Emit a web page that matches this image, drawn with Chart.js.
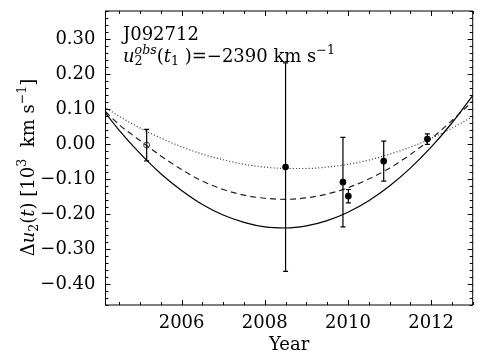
<!DOCTYPE html>
<html>
<head>
<meta charset="utf-8">
<script src="https://cdn.jsdelivr.net/npm/chart.js"></script>
<style>
  html, body { margin: 0; padding: 0; background: #fff; }
  #wrap { width: 485px; height: 364px; }
</style>
</head>
<body>
<div id="wrap"><canvas id="chart" width="485" height="364"></canvas></div>
<script>
// model curves, every half year
const modelYears = [2004.0, 2004.5, 2005.0, 2005.5, 2006.0, 2006.5, 2007.0, 2007.5, 2008.0, 2008.5,
                    2009.0, 2009.5, 2010.0, 2010.5, 2011.0, 2011.5, 2012.0, 2012.5, 2013.0];
const solidModel  = [0.115, 0.039, -0.027, -0.085, -0.133, -0.173, -0.203, -0.224, -0.237, -0.240,
                     -0.234, -0.219, -0.195, -0.162, -0.120, -0.069, -0.009, 0.060, 0.138];
const dashedModel = [0.113, 0.055, 0.010, -0.034, -0.073, -0.106, -0.130, -0.146, -0.155, -0.158,
                     -0.154, -0.143, -0.125, -0.100, -0.069, -0.030, 0.015, 0.067, 0.122];
const dottedModel = [0.117, 0.079, 0.046, 0.017, -0.008, -0.029, -0.045, -0.058, -0.066, -0.070,
                     -0.070, -0.066, -0.058, -0.046, -0.029, -0.009, 0.016, 0.045, 0.078];

// measurements (filled) and the reference epoch (open)
const obsYears  = [2008.50, 2009.88, 2010.01, 2010.86, 2011.91];
const obsValues = [-0.066, -0.109, -0.149, -0.049, 0.014];
const obsErrors = [0.298, 0.128, 0.019, 0.057, 0.015];
const refYears  = [2005.16];
const refValues = [-0.003];
const refErrors = [0.045];

const xTicks = [2006, 2008, 2010, 2012];
const yTicks = [-0.40, -0.30, -0.20, -0.10, 0.00, 0.10, 0.20, 0.30];

const FONT = '"DejaVu Serif", "Liberation Serif", serif';
const FS = 18;

// draws a run of text pieces (italic / sub / sup), returns total width
function drawRich(ctx, parts, x, y, size, draw) {
    let cx = x, start = x, end = x;
    parts.forEach(p => {
        const s = (p.sub || p.sup) ? size * 0.7 : size;
        ctx.font = `${p.i ? 'italic ' : ''}${s}px ${FONT}`;
        const w = ctx.measureText(p.t).width;
        if (p.back) cx = start;
        start = cx;
        const dy = p.sub ? size * 0.2 : p.sup ? -size * 0.42 : 0;
        if (draw) ctx.fillText(p.t, cx, y + dy);
        cx = p.back ? Math.max(end, cx + w) : cx + w;
        end = cx;
    });
    return cx - x;
}

const yTitle = [
    { t: 'Δ' }, { t: 'u', i: true }, { t: '2', sub: true }, { t: '(' }, { t: 't', i: true },
    { t: ') [10' }, { t: '3', sup: true }, { t: '  km s' }, { t: '−1', sup: true }, { t: ']' }
];
const labelLine2 = [
    { t: 'u', i: true }, { t: 'obs', i: true, sup: true }, { t: '2', sub: true, back: true },
    { t: '(' }, { t: 't', i: true }, { t: '1', sub: true }, { t: ' )=−2390 km s' }, { t: '−1', sup: true }
];

const framePlugin = {
    id: 'frame',
    afterDraw(chart) {
        const { ctx, chartArea: a, scales: { x, y } } = chart;
        ctx.save();
        ctx.strokeStyle = '#000';
        ctx.lineWidth = 1;
        ctx.strokeRect(a.left, a.top, a.right - a.left, a.bottom - a.top);
        // inward ticks on all sides
        for (let v = 2004.5; v <= 2013.0001; v += 0.5) {
            const px = Math.round(x.getPixelForValue(v)) + 0.5;
            const len = Math.abs(v / 2 - Math.round(v / 2)) < 1e-6 ? 5 : 3;
            ctx.beginPath();
            ctx.moveTo(px, a.bottom); ctx.lineTo(px, a.bottom - len);
            ctx.moveTo(px, a.top); ctx.lineTo(px, a.top + len);
            ctx.stroke();
        }
        for (let k = -23; k <= 19; k++) {
            const v = k * 0.02;
            const py = Math.round(y.getPixelForValue(v)) + 0.5;
            const len = k % 5 === 0 ? 5 : 3;
            ctx.beginPath();
            ctx.moveTo(a.left, py); ctx.lineTo(a.left + len, py);
            ctx.moveTo(a.right, py); ctx.lineTo(a.right - len, py);
            ctx.stroke();
        }
        ctx.restore();
    }
};

const errorBarPlugin = {
    id: 'errorBars',
    afterDatasetsDraw(chart) {
        const { ctx, scales: { x, y } } = chart;
        const bars = (xs, vs, es) => xs.forEach((yr, i) => {
            const px = x.getPixelForValue(yr);
            const top = y.getPixelForValue(vs[i] + es[i]);
            const bot = y.getPixelForValue(vs[i] - es[i]);
            ctx.beginPath();
            ctx.moveTo(px, top); ctx.lineTo(px, bot);
            ctx.moveTo(px - 2.5, top); ctx.lineTo(px + 2.5, top);
            ctx.moveTo(px - 2.5, bot); ctx.lineTo(px + 2.5, bot);
            ctx.stroke();
        });
        ctx.save();
        ctx.strokeStyle = '#000';
        ctx.lineWidth = 1.2;
        bars(obsYears, obsValues, obsErrors);
        bars(refYears, refValues, refErrors);
        ctx.restore();
    }
};

const textPlugin = {
    id: 'texts',
    afterDraw(chart) {
        const { ctx, chartArea: a } = chart;
        ctx.save();
        ctx.fillStyle = '#000';
        ctx.textBaseline = 'alphabetic';
        ctx.textAlign = 'left';
        ctx.font = `${FS}px ${FONT}`;
        ctx.fillText('J092712', 123, 40);
        drawRich(ctx, labelLine2, 123, 61.5, FS, true);

        ctx.font = `${FS}px ${FONT}`;
        ctx.textAlign = 'center';
        ctx.fillText('Year', (a.left + a.right) / 2, 350);

        ctx.textAlign = 'left';
        const w = drawRich(ctx, yTitle, 0, 0, FS, false);
        ctx.translate(34, 167.5);
        ctx.rotate(-Math.PI / 2);
        drawRich(ctx, yTitle, -w / 2, 0, FS, true);
        ctx.restore();
    }
};

const line = (data, color, dash) => ({
    data: modelYears.map((yr, i) => ({ x: yr, y: data[i] })),
    showLine: true,
    borderColor: color,
    borderWidth: 1.2,
    borderDash: dash,
    pointRadius: 0,
    cubicInterpolationMode: 'monotone',
    fill: false
});

new Chart(document.getElementById('chart'), {
    type: 'scatter',
    data: {
        datasets: [
            {
                data: obsYears.map((yr, i) => ({ x: yr, y: obsValues[i] })),
                pointRadius: 3.3,
                pointBackgroundColor: '#000',
                pointBorderColor: '#000',
                borderWidth: 0
            },
            {
                data: refYears.map((yr, i) => ({ x: yr, y: refValues[i] })),
                pointRadius: 3,
                pointBackgroundColor: 'rgba(0,0,0,0)',
                pointBorderColor: '#444',
                pointBorderWidth: 1
            },
            line(solidModel, '#000', []),
            line(dashedModel, '#222', [6, 4]),
            line(dottedModel, '#333', [1, 2.2])
        ]
    },
    options: {
        responsive: false,
        animation: false,
        devicePixelRatio: 1,
        layout: { padding: { left: 0, top: 11, right: 12.3, bottom: 0 } },
        plugins: { legend: { display: false }, tooltip: { enabled: false } },
        scales: {
            x: {
                type: 'linear',
                min: 2004.17,
                max: 2013.0,
                grid: { display: false, drawTicks: false },
                border: { display: false },
                afterBuildTicks: s => { s.ticks = xTicks.map(v => ({ value: v })); },
                afterFit: s => { s.height = 59; s.paddingLeft = 0; s.paddingRight = 0; },
                ticks: {
                    padding: 8,
                    color: '#000',
                    font: { family: FONT, size: FS },
                    callback: v => String(v)
                }
            },
            y: {
                type: 'linear',
                min: -0.46,
                max: 0.38,
                grid: { display: false, drawTicks: false },
                border: { display: false },
                afterBuildTicks: s => { s.ticks = yTicks.map(v => ({ value: v })); },
                afterFit: s => { s.width = 105.5; s.paddingTop = 0; s.paddingBottom = 0; },
                ticks: {
                    padding: 10,
                    color: '#000',
                    font: { family: FONT, size: FS },
                    callback: v => v.toFixed(2).replace('-', '−')
                }
            }
        }
    },
    plugins: [framePlugin, errorBarPlugin, textPlugin]
});
</script>
</body>
</html>
